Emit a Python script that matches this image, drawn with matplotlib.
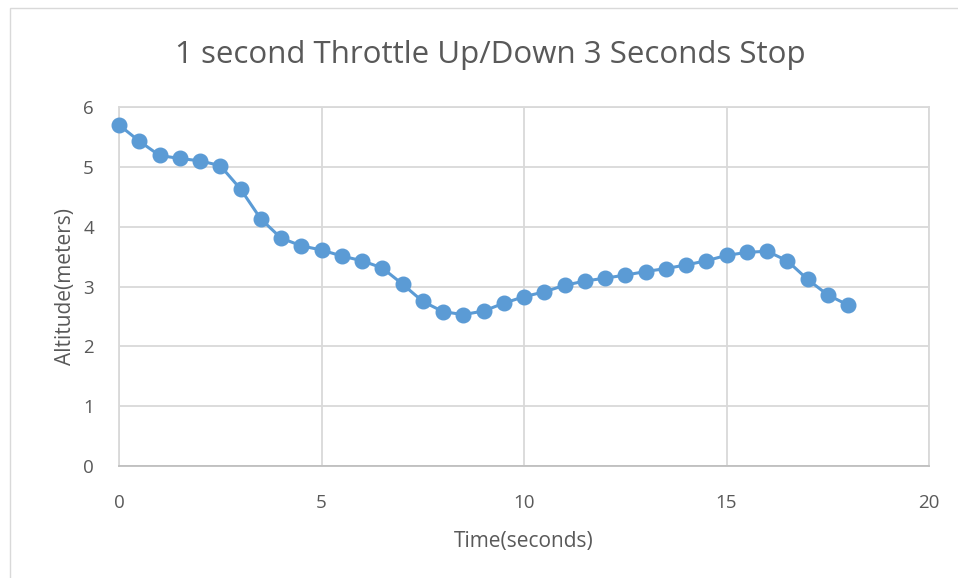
import matplotlib.pyplot as plt
from matplotlib.patches import Rectangle

# Time (s) and altitude (m)
time_s = [0, 0.5, 1, 1.5, 2, 2.5, 3, 3.5, 4, 4.5, 5, 5.5, 6, 6.5, 7, 7.5, 8, 8.5,
          9, 9.5, 10, 10.5, 11, 11.5, 12, 12.5, 13, 13.5, 14, 14.5, 15, 15.5, 16,
          16.5, 17, 17.5, 18]
altitude_m = [5.70, 5.43, 5.19, 5.14, 5.10, 5.02, 4.63, 4.13, 3.81, 3.68, 3.61,
              3.51, 3.43, 3.31, 3.04, 2.75, 2.58, 2.53, 2.59, 2.72, 2.83, 2.91,
              3.02, 3.09, 3.14, 3.19, 3.25, 3.30, 3.36, 3.43, 3.52, 3.57, 3.59,
              3.43, 3.12, 2.86, 2.69]

x_ticks = [0, 5, 10, 15, 20]
y_ticks = [0, 1, 2, 3, 4, 5, 6]

plt.rcParams['font.family'] = ['Open Sans', 'DejaVu Sans']
text_col = '#595959'
grid_col = '#d9d9d9'

fig = plt.figure(figsize=(9.58, 5.78), dpi=100)

# chart area border
fig.patches.append(Rectangle((10 / 958, -0.1), 2, 1.1 - 8 / 578, transform=fig.transFigure,
                             fill=False, edgecolor=grid_col, linewidth=1))

ax = fig.add_axes([119 / 958, 1 - 466 / 578, (929 - 119) / 958, (466 - 107) / 578])
ax.plot(time_s, altitude_m, color='#5b9bd5', linewidth=2.2, marker='o',
        markersize=10.5, zorder=3, clip_on=False)

ax.set_xlim(0, 20)
ax.set_ylim(0, 6)
ax.set_xticks(x_ticks)
ax.set_yticks(y_ticks)
ax.grid(True, color=grid_col, linewidth=1.3)
ax.set_axisbelow(True)
for side in ['top', 'right', 'left']:
    ax.spines[side].set_color(grid_col)
    ax.spines[side].set_linewidth(1.3)
ax.spines['bottom'].set_color('#bfbfbf')
ax.spines['bottom'].set_linewidth(1.3)
ax.tick_params(length=0, labelsize=13.5, labelcolor=text_col)
ax.tick_params(axis='x', pad=20)
ax.tick_params(axis='y', pad=18)

fig.text(490 / 958, 1 - 55 / 578, '1 second Throttle Up/Down 3 Seconds Stop',
         fontsize=22.5, color=text_col, ha='center', va='center')
ax.set_xlabel('Time(seconds)', fontsize=15, color=text_col, labelpad=14)
ax.set_ylabel('Altitude(meters)', fontsize=15, color=text_col, labelpad=5)

fig.savefig('out.png', dpi=100)
